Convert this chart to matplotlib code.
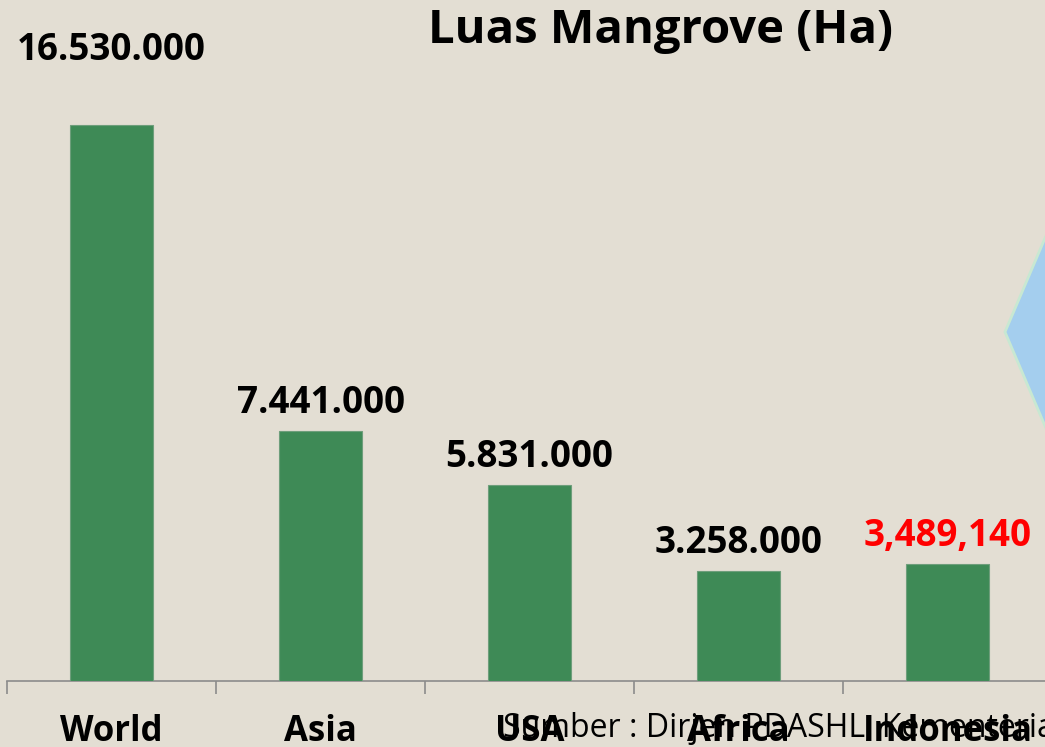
import matplotlib
matplotlib.use("Agg")
import matplotlib.pyplot as plt
from matplotlib.patches import Polygon

categories = ["World", "Asia", "USA", "Africa", "Indonesia"]
values = [16530000, 7441000, 5831000, 3258000, 3489140]
value_labels = ["16.530.000", "7.441.000", "5.831.000", "3.258.000", "3,489,140"]
label_colors = ["black", "black", "black", "black", "#FF0000"]
label_offsets = [47, 13, 13, 13, 13]  # points from bar top to label baseline

title = "Luas Mangrove (Ha)"
source = "Sumber : Dirjen PDASHL, Kementerian LHK"

BG = "#E3DED3"
GREEN = "#3E8A56"

W, H = 1045, 747
fig = plt.figure(figsize=(W / 100, H / 100), dpi=100, facecolor=BG)

scale_px_per_million = 33.64
ymax = 20.0e6
ax_bottom_px = 681
ax_h_px = ymax / 1e6 * scale_px_per_million
ax = fig.add_axes([7 / W, (H - ax_bottom_px) / H, 1045 / W, ax_h_px / H])
ax.set_facecolor(BG)

x = list(range(len(categories)))
bars = ax.bar(x, values, width=0.40, color=GREEN, edgecolor="#6E9E7B", linewidth=0.8, zorder=3)
ax.set_xlim(-0.5, len(categories) - 0.5)
ax.set_ylim(0, ymax)

for b, lab, c, off in zip(bars, value_labels, label_colors, label_offsets):
    ax.annotate(lab, (b.get_x() + b.get_width() / 2, b.get_height()),
                xytext=(0, off), textcoords="offset points",
                ha="center", va="baseline", fontsize=26.5, fontweight="bold",
                family="Open Sans", color=c, annotation_clip=False)

for s in ["top", "left", "right"]:
    ax.spines[s].set_visible(False)
ax.spines["bottom"].set_color("#8C8C8C")
ax.spines["bottom"].set_linewidth(1.2)
ax.set_yticks([])
ax.set_xticks(x)
ax.set_xticklabels(categories, fontsize=25, fontweight="bold", family="Open Sans")
ax.set_xticks([i - 0.5 for i in range(len(categories) + 1)], minor=True)
ax.tick_params(axis="x", which="major", length=0, pad=24)
ax.tick_params(axis="x", which="minor", length=9, width=1.2, color="#8C8C8C", direction="out")

fig.text(661 / W, (H - 43) / H, title, ha="center", va="baseline",
         fontsize=34, fontweight="bold", family="Open Sans")
fig.text(503 / W, 10 / H, source, ha="left", va="baseline",
         fontsize=23, family="Open Sans")

# decorative blue arrow shape on the right edge
px = lambda xx, yy: (xx, H - yy)
poly = Polygon([px(1005, 332), px(1100, 109), px(1200, 109),
                px(1200, 555), px(1100, 555)],
               closed=True, transform=None, facecolor="#A4CEEE",
               edgecolor="#C8E8D2", linewidth=2, zorder=1)
fig.patches.append(poly)

fig.savefig("out.png", dpi=100, facecolor=BG)
